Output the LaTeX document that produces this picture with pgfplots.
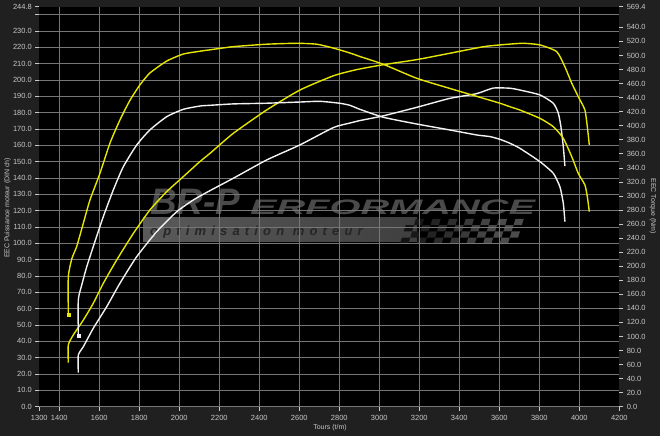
\documentclass[border=0pt]{standalone}
\usepackage{fontspec}
\setmainfont{Liberation Sans}
\newfontfamily\wmfont[LetterSpace=40]{Liberation Sans}
\usepackage{graphicx}
\usepackage{pgfplots}
\pgfplotsset{compat=1.18}
\definecolor{bgcol}{HTML}{202020}
\definecolor{textcol}{HTML}{C8C8C8}
\definecolor{gridcol}{HTML}{767676}
\definecolor{yel}{HTML}{E6E600}
\definecolor{wht}{HTML}{F2F2F2}
\definecolor{wmcol}{HTML}{4A4A4A}
\definecolor{boxcol}{HTML}{5A5A5A}
\begin{document}
\begin{tikzpicture}[x=1bp,y=1bp]
\path[use as bounding box] (0,0) rectangle (660,436);
\fill[bgcol] (0,0) rectangle (660,436);
\fill[black] (39.3,29.3) rectangle (619.3,429.3);
% watermark
\node[anchor=base west, inner sep=0, text=wmcol, font=\fontsize{37}{37}\selectfont\bfseries\itshape] at (150,221) {BR-P};
\node[anchor=base west, inner sep=0, text=wmcol, font=\fontsize{21}{21}\selectfont\bfseries\itshape] at (250,221) {\scalebox{1.9}[1]{ERFORMANCE}};
\shade[left color=boxcol, right color=boxcol!70!black] (143,194) rectangle (417,218);
\node[anchor=base west, inner sep=0, text=black!85, font=\fontsize{13}{13}\selectfont\wmfont\bfseries\itshape] at (150,200) {optimisation moteur};
\begin{scope}[shift={(400,192)}, xslant=0.3]
\foreach \i in {0,...,13}{\foreach \j in {0,...,3}{
  \pgfmathtruncatemacro{\pp}{mod(\i+\j,2)}
  \pgfmathtruncatemacro{\op}{min(100,25+\i*7)}
  \ifnum\pp=0 \fill[black!70!white!\op!black] (\i*8.3,\j*6.3) rectangle ++(8.3,6.3);\fi
}}
\end{scope}
\begin{axis}[
  at={(39.3bp,29.3bp)}, anchor=south west,
  width=580bp, height=400bp, scale only axis,
  xmin=1300, xmax=4200, ymin=0, ymax=244.8,
  axis line style={draw=none},
  tick pos=left, tick align=outside,
  major tick length=4bp,
  tick style={draw=textcol, line width=0.6bp},
  grid=major,
  major grid style={draw=gridcol, line width=0.5bp},
  xtick={1400,1600,...,4000},
  extra x ticks={1300,4200},
  extra x tick style={grid=none},
  ytick={0,10,...,240},
  yticklabels={0.0,10.0,20.0,30.0,40.0,50.0,60.0,70.0,80.0,90.0,100.0,110.0,120.0,130.0,140.0,150.0,160.0,170.0,180.0,190.0,200.0,210.0,220.0,230.0,{}},
  extra y ticks={244.8},
  extra y tick labels={244.8},
  extra y tick style={grid=none},
  /pgf/number format/assume math mode=true,
  /pgf/number format/1000 sep={},
  ticklabel style={font=\fontsize{7.5}{9}\selectfont, text=textcol},
  xticklabel style={yshift=-1bp},
]
\addplot[yel, line width=1.4bp, smooth, tension=0.35, line join=round] coordinates {
(1445,26.9)(1445,37.8)(1470,43.9)(1520,53)(1570,63.3)(1620,75.5)(1687,89.8)(1770,106)(1853,120.4)(1937,131.6)(2020,140.8)(2103,150)(2153,155)(2270,167.3)(2437,181.6)(2603,193.8)(2770,202.5)(2853,205.3)(2903,206.7)(3020,209.3)(3187,212.4)(3353,216.3)(3520,220.3)(3603,221.4)(3653,221.9)(3720,222.4)(3803,221.4)(3887,217.3)(3928,208)(3962,198)(3995,189.7)(4028,181.6)(4040,171.4)(4050,160.2)};
\addplot[wht, line width=1.4bp, smooth, tension=0.35, line join=round] coordinates {
(1495,20.8)(1495,31.6)(1520,36.7)(1570,48)(1637,61.2)(1703,75.5)(1787,91.8)(1887,107.1)(1987,119.3)(2070,126.5)(2153,132.2)(2270,139.8)(2437,151)(2603,160.2)(2770,170.8)(2853,173.6)(2903,175.1)(3020,178)(3187,183.2)(3353,188.7)(3487,191.6)(3570,195)(3653,194.9)(3703,193.8)(3803,190.8)(3870,185.7)(3895,179.6)(3908,171.4)(3920,159.1)(3928,147.3)};
\end{axis}
\begin{axis}[
  at={(39.3bp,29.3bp)}, anchor=south west,
  width=580bp, height=400bp, scale only axis,
  xmin=1300, xmax=4200, ymin=0, ymax=569.4,
  hide x axis,
  axis y line*=right,
  axis line style={draw=none},
  tick align=outside,
  major tick length=4bp,
  tick style={draw=textcol, line width=0.6bp},
  ytick={0,20,...,540},
  extra y ticks={569.4},
  extra y tick labels={569.4},
  /pgf/number format/assume math mode=true,
  /pgf/number format/.cd, fixed, fixed zerofill, precision=1, 1000 sep={},
  /pgfplots/.cd,
  ticklabel style={font=\fontsize{7.5}{9}\selectfont, text=textcol},
]
\addplot[yel, line width=1.4bp, smooth, tension=0.35, line join=round] coordinates {
(1445,131.5)(1445,185)(1463,211)(1487,228)(1520,261)(1553,294)(1603,332)(1653,375)(1703,408)(1753,436)(1803,458)(1853,475)(1937,492)(2020,502)(2103,506)(2153,508)(2270,512.5)(2437,516)(2587,517.3)(2687,516)(2770,510.5)(2853,503.5)(2903,498.5)(3020,487.4)(3187,467.5)(3353,453)(3520,439)(3603,432)(3653,427)(3703,422.3)(3803,410.5)(3870,398.6)(3920,382)(3962,356)(3995,332)(4028,315.6)(4040,299)(4050,277.6)};
\addplot[wht, line width=1.4bp, smooth, tension=0.35, line join=round] coordinates {
(1495,100.6)(1495,152)(1512,173)(1537,199)(1570,228)(1620,270.5)(1670,308.5)(1720,341.6)(1787,372.5)(1853,394)(1937,412.8)(2020,423.3)(2103,428)(2153,429)(2270,431)(2437,432)(2603,433.7)(2703,434.7)(2803,431.9)(2853,429)(2903,423.3)(3020,412)(3187,402.4)(3353,393.9)(3487,386.8)(3553,384.5)(3603,380.6)(3653,375)(3703,367.8)(3803,348.8)(3870,332.2)(3903,313)(3920,289.5)(3928,263.4)};
\addplot[only marks, mark=square*, mark size=1.5bp, yel] coordinates {(1445,131.5)};
\addplot[only marks, mark=square*, mark size=1.5bp, wht] coordinates {(1495,100.6)};
\end{axis}
\node[rotate=90, inner sep=0, text=textcol, font=\fontsize{7}{8}\selectfont] at (7.5,228) {EEC Puissance moteur (DIN ch)};
\node[rotate=-90, inner sep=0, text=textcol, font=\fontsize{7}{8}\selectfont] at (653,230) {EEC Torque (Nm)};
\node[inner sep=0, text=textcol, font=\fontsize{7}{8}\selectfont] at (330,8) {Tours (t/m)};
\end{tikzpicture}
\end{document}
